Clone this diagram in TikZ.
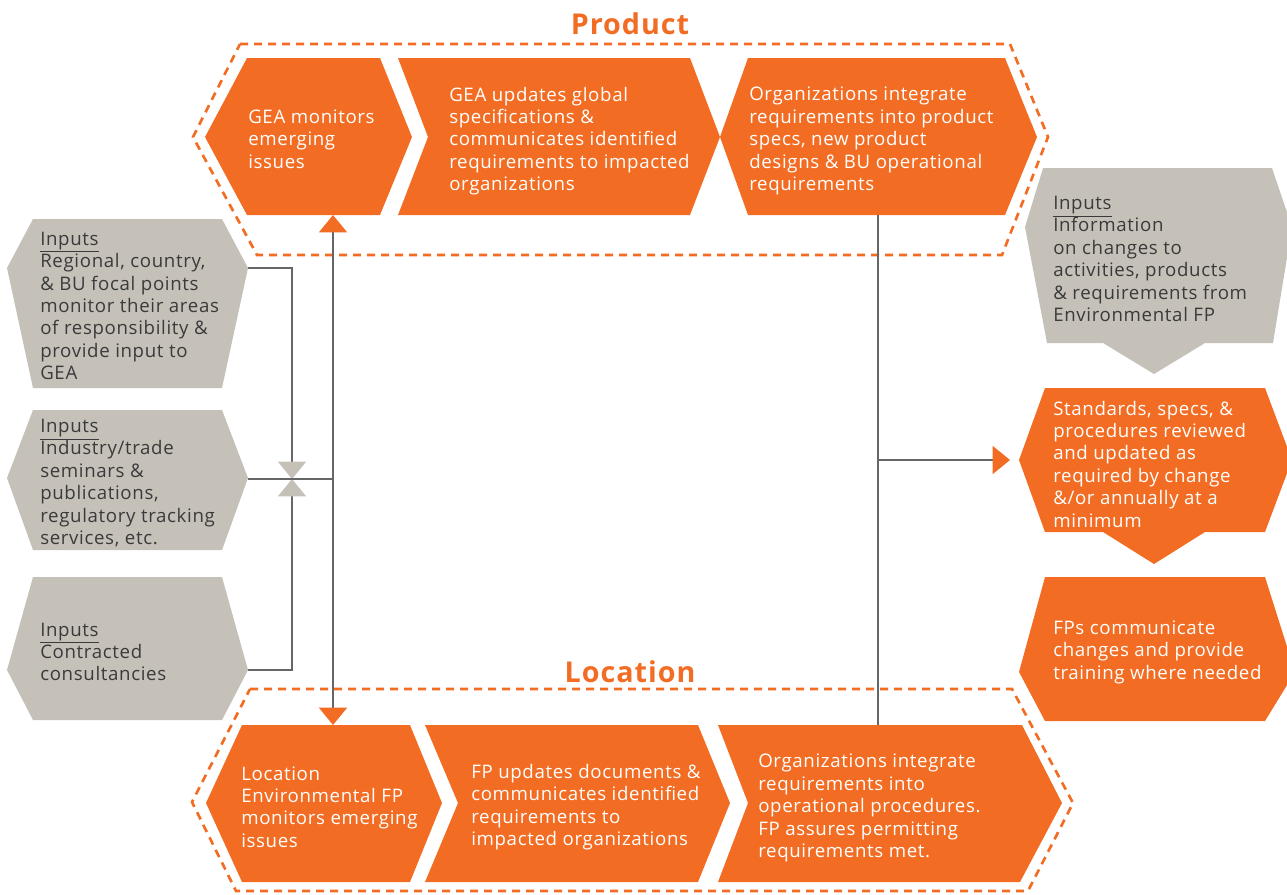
\documentclass[tikz,border=0pt]{standalone}
\usepackage{fontspec}
\setmainfont[LetterSpace=3.5]{Open Sans}
\usetikzlibrary{arrows.meta}
\definecolor{geaorange}{HTML}{F26D23}
\definecolor{geagray}{HTML}{C5C1B9}
\definecolor{geatext}{HTML}{3A3A3A}
\definecolor{gealine}{HTML}{666666}
\tikzset{
    otip/.tip={Triangle[width=21pt,length=13pt,color=geaorange]},
    gtip/.tip={Triangle[width=21pt,length=13pt,color=geagray]},
}

\begin{document}
\begin{tikzpicture}[x=0.75pt,y=-0.75pt,
    orangebox/.style={fill=geaorange},
    graybox/.style={fill=geagray},
    boxtext/.style={anchor=west,align=left,inner sep=0pt,font=\fontsize{14}{16.8}\selectfont},
    onorange/.style={boxtext,text=white},
    ongray/.style={boxtext,text=geatext},
    heading/.style={text=geaorange,inner sep=0pt,font=\bfseries\fontsize{21.5}{24}\selectfont},
    outline/.style={geaorange,line width=2pt,dash pattern=on 6pt off 4.5pt},
    wire/.style={gealine,line width=1.1pt}]
    \useasboundingbox (0,0) rectangle (1287,894);
    \clip (0,0) rectangle (1287,894);

    % dashed groups
    \draw[outline] (240,44) -- (1010,44) -- (1048,137) -- (1002,255) -- (257,255) -- (193,137) -- cycle;
    \draw[outline] (250,689) -- (1012,689) -- (1073,803) -- (1028,891) -- (236,891) -- (192,802) -- cycle;
    \node[heading] (product) at (630,24) {Product};
    \node[heading] (location) at (630,672) {Location};

    % product row
    \fill[orangebox] (247,58) -- (380,58) -- (412,137) -- (380,215) -- (247,215) -- (205,137) -- cycle;
    \fill[orangebox] (398,58) -- (690,58) -- (720,137) -- (690,215) -- (398,215) -- (428,137) -- cycle;
    \fill[orangebox] (748,58) -- (1005,58) -- (1037,137) -- (1005,215) -- (748,215) -- (720,137) -- cycle;
    \node[onorange] (p1) at (248,139) {GEA monitors\\emerging\\issues};
    \node[onorange] (p2) at (449,141) {GEA updates global\\specifications \&\\communicates identified\\requirements to impacted\\organizations};
    \node[onorange] (p3) at (749,141) {Organizations integrate\\requirements into product\\specs, new product\\designs \& BU operational\\requirements};

    % location row
    \fill[orangebox] (242,725) -- (410,725) -- (442,803) -- (410,882) -- (242,882) -- (206,803) -- cycle;
    \fill[orangebox] (425,725) -- (698,725) -- (730,803) -- (698,882) -- (425,882) -- (458,803) -- cycle;
    \fill[orangebox] (718,725) -- (1022,725) -- (1062,803) -- (1020,882) -- (718,882) -- (748,803) -- cycle;
    \node[onorange] (l1) at (241,807) {Location\\Environmental FP\\monitors emerging\\issues};
    \node[onorange] (l2) at (471,807) {FP updates documents \&\\communicates identified\\requirements to\\impacted organizations};
    \node[onorange] (l3) at (758,808) {Organizations integrate\\requirements into\\operational procedures.\\FP assures permitting\\requirements met.};

    % inputs on the left
    \fill[graybox] (33,219) -- (222,219) -- (248,268) -- (222,388) -- (33,388) -- (7,268) -- cycle;
    \fill[graybox] (33,410) -- (222,410) -- (248,478) -- (222,550) -- (33,550) -- (7,478) -- cycle;
    \fill[graybox] (33,577) -- (222,577) -- (248,670) -- (222,720) -- (33,720) -- (7,670) -- cycle;
    \node[ongray] (in1) at (40,306) {\underline{Inputs}\\Regional, country,\\\& BU focal points\\monitor their areas\\of responsibility \&\\provide input to\\GEA};
    \node[ongray] (in2) at (40,483) {\underline{Inputs}\\Industry/trade\\seminars \&\\publications,\\regulatory tracking\\services, etc.};
    \node[ongray] (in3) at (40,652) {\underline{Inputs}\\Contracted\\consultancies};

    % right column
    \fill[graybox] (1043,168) -- (1272,168) -- (1292,227) -- (1273,343) -- (1205,343) -- (1154,374) -- (1103,343) -- (1047,343) -- (1025,227) -- cycle;
    \fill[orangebox] (1045,388) -- (1265,388) -- (1292,460) -- (1265,532) -- (1205,532) -- (1154,564) -- (1103,532) -- (1045,532) -- (1019,460) -- cycle;
    \fill[orangebox] (1045,577) -- (1265,577) -- (1295,672) -- (1265,721) -- (1045,721) -- (1019,672) -- cycle;
    \node[ongray] (in4) at (1053,259) {\underline{Inputs}\\Information\\on changes to\\activities, products\\\& requirements from\\Environmental FP};
    \node[onorange] (rev) at (1053,464) {Standards, specs, \&\\procedures reviewed\\and updated as\\required by change\\\&/or annually at a\\minimum};
    \node[onorange] (train) at (1053,652) {FPs communicate\\changes and provide\\training where needed};

    % connectors
    \coordinate (in1out) at (248,268);
    \coordinate (in2out) at (248,479);
    \coordinate (in3out) at (248,670);
    \coordinate (merge) at (292,479);
    \coordinate (join) at (333,479);
    \coordinate (p1foot) at (333,215);
    \coordinate (l1head) at (333,725);
    \coordinate (p3foot) at (878,215);
    \coordinate (l3head) at (878,725);
    \coordinate (tap) at (878,460);
    \coordinate (revin) at (1010,460);
    \draw[wire,-gtip] (in1out) -| (merge);
    \draw[wire,-gtip] (in3out) -| (merge);
    \draw[wire] (in2out) -- (join);
    \draw[wire,otip-otip] (p1foot) -- (l1head);
    \draw[wire] (p3foot) -- (l3head);
    \draw[wire,-otip] (tap) -- (revin);
\end{tikzpicture}
\end{document}
